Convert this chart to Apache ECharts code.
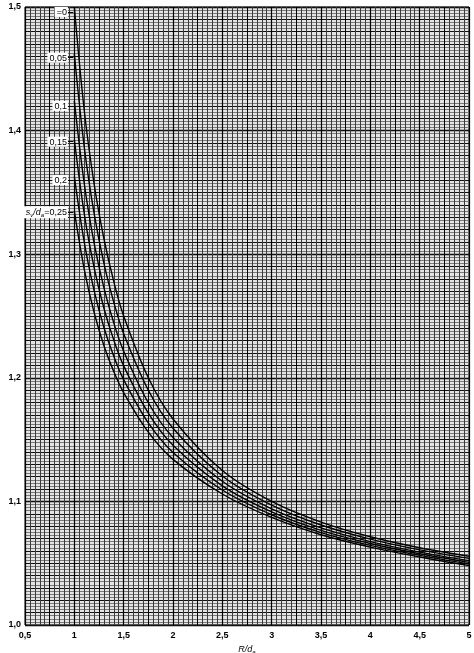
<!DOCTYPE html>
<html><head><meta charset="utf-8">
<script src="https://cdn.jsdelivr.net/npm/echarts@6/dist/echarts.min.js"></script>
<style>html,body{margin:0;padding:0;background:#fff}#c{width:474px;height:653px}</style>
</head><body><div id="c"></div>
<script>
// R/d_a sample points
const rVals = [1, 1.1, 1.2, 1.3, 1.4, 1.5, 1.75, 2, 2.5, 3, 3.5, 4, 4.5, 5];
// B1 values for each s_v/d_a
const b000 = [1.500, 1.4167, 1.3571, 1.3125, 1.2778, 1.250, 1.200, 1.1667, 1.125, 1.100, 1.0833, 1.0714, 1.0625, 1.0556];
const b005 = [1.462, 1.3871, 1.3332, 1.2926, 1.2611, 1.2357, 1.1899, 1.1592, 1.1206, 1.097, 1.0809, 1.0695, 1.0608, 1.0539];
const b010 = [1.4241, 1.3575, 1.3092, 1.2727, 1.2443, 1.2215, 1.1798, 1.1517, 1.1163, 1.094, 1.0786, 1.0675, 1.059, 1.0521];
const b015 = [1.3927, 1.333, 1.2894, 1.2563, 1.2305, 1.2097, 1.1714, 1.1454, 1.1126, 1.0915, 1.0766, 1.0659, 1.0576, 1.0507];
const b020 = [1.363, 1.3099, 1.2707, 1.2407, 1.2174, 1.1985, 1.1635, 1.1396, 1.1092, 1.0892, 1.0748, 1.0644, 1.0563, 1.0493];
const b025 = [1.335, 1.288, 1.253, 1.226, 1.205, 1.188, 1.156, 1.134, 1.106, 1.087, 1.073, 1.063, 1.055, 1.048];
const curveLabels = ['=0', '0,05', '0,1', '0,15', '0,2', '{i|s}{s|v}{i|/d}{s|a}=0,25'];
const labelB = [1.496, 1.459, 1.420, 1.391, 1.360, 1.334];
const xTicks = [0.5, 1, 1.5, 2, 2.5, 3, 3.5, 4, 4.5, 5];
const yTicks = [1.0, 1.1, 1.2, 1.3, 1.4, 1.5];

const curves = [b000, b005, b010, b015, b020, b025];
const FONT = 'Liberation Sans, Arial, sans-serif';
const rich = {
  i: {fontStyle: 'italic', fontSize: 9, fontFamily: FONT, color: '#000'},
  s: {fontStyle: 'italic', fontSize: 6, fontFamily: FONT, color: '#000', padding: [5, 0, 0, 0]}
};
const fmt = v => v.toFixed(1).replace('.', ',');

const series = curves.map((arr, k) => ({
  type: 'line', xAxisIndex: 0, yAxisIndex: 0,
  data: rVals.map((r, j) => [r, arr[j]]),
  smooth: 0.35, symbol: 'none', silent: true,
  lineStyle: {color: '#000', width: 1.4},
  z: 5,
  markLine: {
    silent: true, symbol: 'none', animation: false,
    lineStyle: {color: '#000', width: 1, type: 'solid'},
    label: {show: false},
    data: [[{coord: [0.935, labelB[k]]}, {coord: [0.99, labelB[k]]}]]
  },
  markPoint: {
    silent: true, symbol: 'rect', symbolSize: 0, animation: false,
    data: [{coord: [0.935, labelB[k]], value: 0}],
    label: {
      show: true, position: 'left', distance: 0,
      formatter: curveLabels[k],
      fontFamily: FONT, fontSize: 9, color: '#000',
      backgroundColor: '#fff', padding: [1, 1, 0, 2], rich: rich
    }
  }
}));

const chart = echarts.init(document.getElementById('c'), null, {renderer: 'canvas'});
chart.setOption({
  animation: false,
  backgroundColor: '#fff',
  grid: {left: 25, right: 5, top: 7, bottom: 28, outerBoundsMode: 'none', containLabel: false,
         show: true, backgroundColor: '#e4e4e4', borderColor: '#000', borderWidth: 1},
  xAxis: [{
    type: 'value', min: xTicks[0], max: xTicks[xTicks.length - 1], interval: 0.5,
    axisLine: {show: false}, axisTick: {show: false},
    axisLabel: {formatter: v => String(v).replace('.', ','), fontFamily: FONT, fontSize: 9, fontWeight: 'bold', color: '#000', margin: 6},
    splitLine: {show: true, lineStyle: {color: '#000', width: 1.2}},
    minorTick: {show: false, splitNumber: 10},
    minorSplitLine: {show: true, lineStyle: {color: '#3a3a3a', width: 1}},
    name: '{i|R/d}{s|a}', nameLocation: 'middle', nameGap: 16,
    nameTextStyle: {rich: rich}
  }, {
    type: 'value', min: 0.5, max: 5, interval: 0.25, position: 'top',
    axisLine: {show: false}, axisTick: {show: false}, axisLabel: {show: false},
    splitLine: {show: true, lineStyle: {color: '#000', width: 1}}
  }],
  yAxis: [{
    type: 'value', min: yTicks[0], max: yTicks[yTicks.length - 1], interval: 0.1,
    axisLine: {show: false}, axisTick: {show: false},
    axisLabel: {formatter: fmt, fontFamily: FONT, fontSize: 9, fontWeight: 'bold', color: '#000', margin: 4},
    splitLine: {show: true, lineStyle: {color: '#000', width: 1.3}},
    minorTick: {show: false, splitNumber: 40},
    minorSplitLine: {show: true, lineStyle: {color: '#7a7a7a', width: 1}},
    name: 'Berechnungsbeiwert {i|B}{s|1}', nameLocation: 'middle', nameGap: 14, nameRotate: 90,
    nameTextStyle: {fontFamily: FONT, fontSize: 9, color: '#000', rich: rich}
  }, {
    type: 'value', min: 1.0, max: 1.5, interval: 0.01, position: 'right',
    axisLine: {show: false}, axisTick: {show: false}, axisLabel: {show: false},
    splitLine: {show: true, lineStyle: {color: '#111', width: 1}}
  }],
  series: series
});
</script>
</body></html>
